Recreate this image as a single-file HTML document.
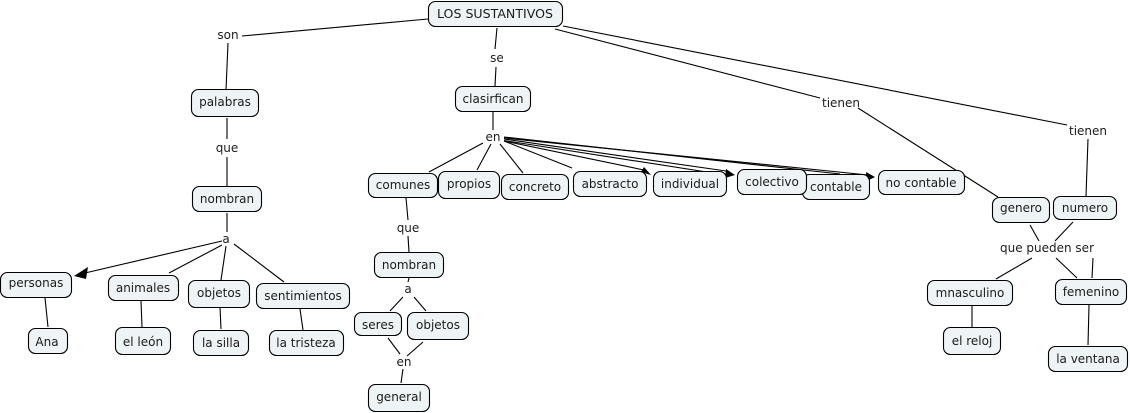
<!DOCTYPE html>
<html><head><meta charset="utf-8"><style>
html,body{margin:0;padding:0;background:#fff;width:1130px;height:413px;overflow:hidden}
svg{display:block}
text{font-family:"DejaVu Sans","Liberation Sans",sans-serif;font-size:12px;fill:#1c1c1c;text-anchor:middle}
line{stroke:#000;stroke-width:1.1}
rect{fill:#eef3f5;stroke:#000;stroke-width:1.1}
polygon{fill:#000}
</style></head><body>
<svg width="1130" height="413" viewBox="0 0 1130 413" xmlns="http://www.w3.org/2000/svg">
<line x1="242" y1="36" x2="428" y2="19"/><line x1="228" y1="43" x2="226" y2="90"/>
<line x1="497" y1="28" x2="495" y2="49"/><line x1="496" y1="67" x2="495" y2="86"/>
<line x1="555" y1="29" x2="820" y2="98"/><line x1="858" y1="108" x2="998" y2="197"/>
<line x1="563" y1="26" x2="1067" y2="125"/><line x1="1088" y1="139" x2="1086" y2="196"/>
<line x1="227" y1="118" x2="227" y2="139"/><line x1="227" y1="157" x2="227" y2="186"/>
<line x1="227" y1="213" x2="227" y2="232"/>
<line x1="222" y1="241" x2="85" y2="273"/><polygon points="74,276 88,267 86,279"/>
<line x1="222" y1="245" x2="169" y2="273"/><line x1="226" y1="246" x2="221" y2="280"/><line x1="234" y1="244" x2="284" y2="282"/>
<line x1="45" y1="298" x2="48" y2="327"/><line x1="141" y1="301" x2="142" y2="327"/><line x1="220" y1="307" x2="221" y2="329"/><line x1="300" y1="309" x2="303" y2="330"/>
<line x1="493" y1="111" x2="493" y2="130"/>
<line x1="483" y1="143" x2="429" y2="172"/><line x1="491" y1="144" x2="477" y2="170"/><line x1="500" y1="144" x2="523" y2="173"/><line x1="504" y1="141" x2="572" y2="168"/>
<line x1="504" y1="141" x2="644" y2="170"/><polygon points="651,175 641,172 644,167"/>
<line x1="504" y1="139" x2="726" y2="171"/><line x1="504" y1="140.5" x2="726" y2="175"/><polygon points="735,175 725,178 726,169"/>
<line x1="504" y1="137" x2="840" y2="174"/>
<line x1="504" y1="138" x2="868" y2="175"/><polygon points="875,177 867,181 866,172"/>
<line x1="406" y1="198" x2="408" y2="220"/><line x1="408" y1="236" x2="409" y2="252"/>
<line x1="409" y1="278" x2="408" y2="282"/><line x1="403" y1="297" x2="390" y2="311"/><line x1="414" y1="297" x2="426" y2="311"/>
<line x1="388" y1="338" x2="400" y2="354"/><line x1="423" y1="342" x2="407" y2="356"/><line x1="403" y1="369" x2="401" y2="383"/>
<line x1="1030" y1="225" x2="1039" y2="241"/><line x1="1073" y1="222" x2="1055" y2="241"/>
<line x1="1032" y1="258" x2="996" y2="279"/><line x1="1056" y1="258" x2="1077" y2="278"/><line x1="1093" y1="258" x2="1092" y2="278"/>
<line x1="972" y1="305" x2="972" y2="327"/><line x1="1089" y1="305" x2="1088" y2="345"/>

<rect x="428.5" y="1.5" width="134" height="25" rx="7"/><text x="495" y="18" textLength="116" lengthAdjust="spacingAndGlyphs">LOS SUSTANTIVOS</text>
<rect x="191.5" y="89.5" width="67" height="27" rx="7"/><text x="225" y="106">palabras</text>
<rect x="455.5" y="86.5" width="75" height="25" rx="7"/><text x="493" y="103">clasirfican</text>
<rect x="192.5" y="186.5" width="69" height="25" rx="7"/><text x="227" y="203">nombran</text>
<rect x="0.5" y="272.5" width="71" height="25" rx="7"/><text x="36" y="287">personas</text>
<rect x="108.5" y="275.5" width="70" height="25" rx="7"/><text x="143" y="292">animales</text>
<rect x="188.5" y="280.5" width="61" height="27" rx="7"/><text x="219" y="297">objetos</text>
<rect x="256.5" y="283.5" width="93" height="25" rx="7"/><text x="303" y="300">sentimientos</text>
<rect x="28.5" y="328.5" width="39" height="25" rx="7"/><text x="47" y="346">Ana</text>
<rect x="115.5" y="327.5" width="55" height="27" rx="7"/><text x="143" y="346">el león</text>
<rect x="193.5" y="330.5" width="55" height="25" rx="7"/><text x="221" y="347">la silla</text>
<rect x="269.5" y="330.5" width="74" height="25" rx="7"/><text x="306" y="347">la tristeza</text>
<rect x="368.5" y="173.5" width="69" height="24" rx="7"/><text x="403" y="189">comunes</text>
<rect x="438.5" y="171.5" width="61" height="27" rx="7"/><text x="469" y="188">propios</text>
<rect x="501.5" y="174.5" width="67" height="25" rx="7"/><text x="535" y="191">concreto</text>
<rect x="573.5" y="171.5" width="73" height="25" rx="7"/><text x="610" y="188">abstracto</text>
<rect x="653.5" y="171.5" width="73" height="25" rx="7"/><text x="690" y="188">individual</text>
<rect x="802.5" y="174.5" width="67" height="25" rx="7"/><text x="836" y="191">contable</text>
<rect x="737.5" y="169.5" width="69" height="25" rx="7"/><text x="772" y="186">colectivo</text>
<rect x="878.5" y="170.5" width="86" height="24" rx="7"/><text x="921" y="187" textLength="71" lengthAdjust="spacingAndGlyphs">no contable</text>
<rect x="374.5" y="252.5" width="69" height="25" rx="7"/><text x="409" y="269">nombran</text>
<rect x="354.5" y="312.5" width="47" height="23" rx="7"/><text x="378" y="329">seres</text>
<rect x="407.5" y="312.5" width="61" height="27" rx="7"/><text x="438" y="329">objetos</text>
<rect x="368.5" y="384.5" width="61" height="27" rx="7"/><text x="399" y="401">general</text>
<rect x="992.5" y="197.5" width="57" height="25" rx="7"/><text x="1021" y="212">genero</text>
<rect x="1053.5" y="196.5" width="63" height="23" rx="7"/><text x="1085" y="212">numero</text>
<rect x="927.5" y="280.5" width="85" height="25" rx="7"/><text x="970" y="297">mnasculino</text>
<rect x="1055.5" y="279.5" width="71" height="25" rx="7"/><text x="1091" y="296">femenino</text>
<rect x="943.5" y="327.5" width="57" height="27" rx="7"/><text x="972" y="345">el reloj</text>
<rect x="1048.5" y="346.5" width="79" height="25" rx="7"/><text x="1088" y="363">la ventana</text>

<text x="228" y="39">son</text><text x="497" y="62">se</text><text x="841" y="107">tienen</text><text x="1088" y="135">tienen</text>
<text x="227" y="152">que</text><text x="493" y="141">en</text><text x="226" y="243">a</text>
<text x="408" y="232">que</text><text x="408" y="293">a</text><text x="404" y="366">en</text><text x="1047" y="252">que pueden ser</text>
</svg>
</body></html>
